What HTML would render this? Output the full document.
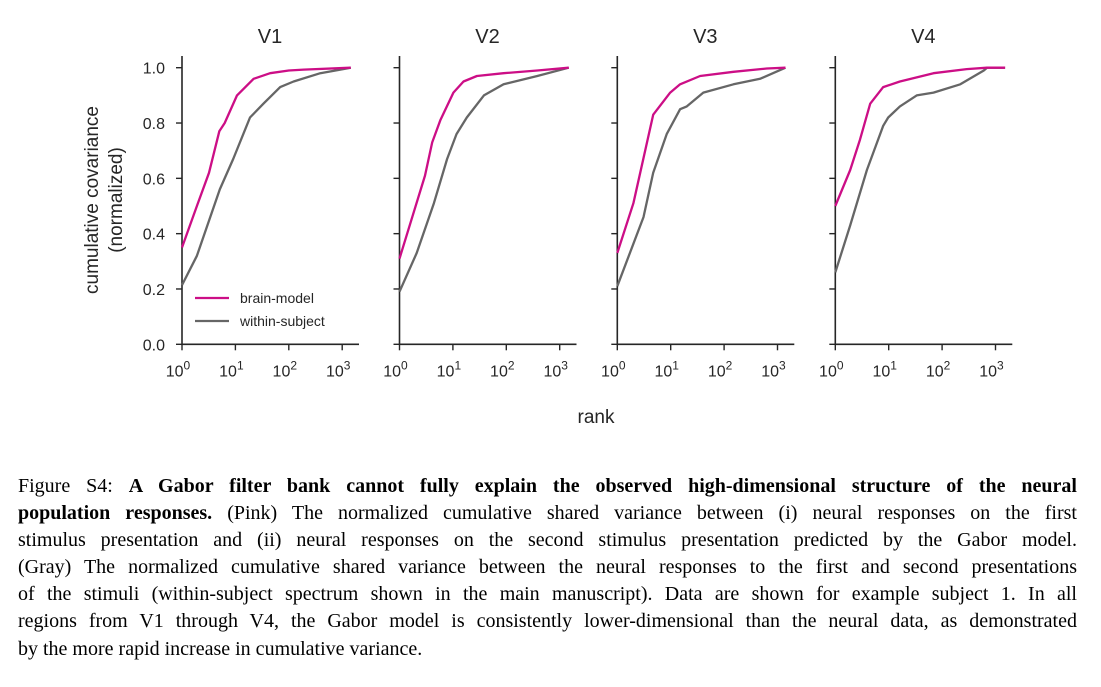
<!DOCTYPE html>
<html><head><meta charset="utf-8">
<style>
body{margin:0;background:#fff;width:1101px;height:687px;overflow:hidden;position:relative}
svg text{font-family:"Liberation Sans",sans-serif;fill:#262626}
#cap{position:absolute;left:18px;top:473px;width:1059px;font-family:"Liberation Serif",serif;font-size:20px;line-height:27.1px;color:#000}
#cap div{text-align:justify;text-align-last:justify;white-space:nowrap}
#cap div.last{text-align-last:left}
</style></head><body>
<svg id="fig" width="1101" height="460" style="position:absolute;left:0;top:0"></svg>
<div id="cap">
<div>Figure S4: <b>A Gabor filter bank cannot fully explain the observed high-dimensional structure of the neural</b></div>
<div><b>population responses.</b> (Pink) The normalized cumulative shared variance between (i) neural responses on the first</div>
<div>stimulus presentation and (ii) neural responses on the second stimulus presentation predicted by the Gabor model.</div>
<div>(Gray) The normalized cumulative shared variance between the neural responses to the first and second presentations</div>
<div>of the stimuli (within-subject spectrum shown in the main manuscript). Data are shown for example subject 1. In all</div>
<div>regions from V1 through V4, the Gabor model is consistently lower-dimensional than the neural data, as demonstrated</div>
<div class="last">by the more rapid increase in cumulative variance.</div>
</div>
<script>
const panels=["V1","V2","V3","V4"];
const yTicks=[0,0.2,0.4,0.6,0.8,1.0];
const yTickLabels=["0.0","0.2","0.4","0.6","0.8","1.0"];
const xTicks=[1,10,100,1000];
const brainRank=[
[1,1.9,3.2,5,6.3,10.7,21.9,44.7,100,190,1450],
[1,1.8,3,4.1,5.8,10.2,15.8,28.2,89,380,1480],
[1,2,4.7,9.8,15,35.5,150,630,1410],
[1,1.9,2.9,4.5,7.9,16.2,69,289,692,1510]];
const brainVal=[
[0.35,0.5,0.62,0.77,0.8,0.9,0.96,0.98,0.99,0.993,1],
[0.31,0.47,0.61,0.73,0.81,0.91,0.95,0.97,0.98,0.99,1],
[0.33,0.51,0.83,0.91,0.94,0.97,0.985,0.997,1],
[0.5,0.63,0.74,0.87,0.93,0.95,0.98,0.995,1,1]];
const withinRank=[
[1,1.9,5.1,9.1,18.8,33.5,69,123,389,1450],
[1,2.1,4.4,7.8,11.7,18.2,38,89,380,1480],
[1,3.1,4.7,8.4,15,20,40.7,150,473,1410],
[1,1.9,3.9,7.9,9.8,16.2,33.5,69,219,603,692,1510]];
const withinVal=[
[0.214,0.32,0.56,0.67,0.82,0.87,0.93,0.95,0.98,1],
[0.19,0.33,0.51,0.67,0.76,0.82,0.9,0.94,0.97,1],
[0.21,0.46,0.62,0.76,0.85,0.86,0.91,0.94,0.96,1],
[0.26,0.43,0.63,0.79,0.82,0.86,0.9,0.91,0.94,0.99,1,1]];
const svg=document.getElementById('fig');
const NS="http://www.w3.org/2000/svg";
function mk(t,a,p){const e=document.createElementNS(NS,t);for(const k in a)e.setAttribute(k,a[k]);(p||svg).appendChild(e);return e;}
const x0s=[182,399.5,617.3,835.3],dec=53.4,yB=344.3,yT=67.7;
const ys=v=>yB-v*(yB-yT);
panels.forEach((name,i)=>{
  const x0=x0s[i];const xs=r=>x0+Math.log10(r)*dec;
  const g=mk('g',{});
  
  
  const t=mk('text',{x:x0+88,y:43,'font-size':20,'text-anchor':'middle'},g);t.textContent=name;
  
  const ax=mk('path',{d:`M${x0} 56V${yB}H${x0+177}`,stroke:'#262626','stroke-width':1.6,fill:'none'},g);
  
  yTicks.forEach((v,j)=>{
    mk('line',{x1:x0-6,x2:x0,y1:ys(v),y2:ys(v),stroke:'#262626','stroke-width':1.4},g);
    if(i==0){const l=mk('text',{x:x0-17,y:ys(v)+6,'font-size':16,'text-anchor':'end'},g);l.textContent=yTickLabels[j];
      }
  });
  xTicks.forEach(r=>{
    const x=xs(r);mk('line',{x1:x,x2:x,y1:yB,y2:yB+6,stroke:'#262626','stroke-width':1.4},g);
    const l=mk('text',{x:x-4,y:yB+32,'font-size':16,'text-anchor':'middle'},g);
    l.innerHTML='10<tspan dy="-7" font-size="12">'+Math.round(Math.log10(r))+'</tspan>';
    
  });
  const pts=(R,V)=>R.map((r,k)=>xs(r).toFixed(1)+','+ys(V[k]).toFixed(1)).join(' ');
  const gl=mk('polyline',{points:pts(withinRank[i],withinVal[i]),fill:'none',stroke:'#666','stroke-width':2.3,'stroke-linejoin':'round'},g);
  
  const bl=mk('polyline',{points:pts(brainRank[i],brainVal[i]),fill:'none',stroke:'#cc0e86','stroke-width':2.3,'stroke-linejoin':'round'},g);
  
});
const lg=mk('g',{});

[['brain-model','#cc0e86',298],['within-subject','#666',321]].forEach(([n,c,y])=>{
  mk('line',{x1:195,x2:229,y1:y,y2:y,stroke:c,'stroke-width':2.3},lg);
  const t=mk('text',{x:240,y:y+5,'font-size':14},lg);t.textContent=n;
  
});
const yl=mk('text',{transform:'translate(98,200) rotate(-90)','font-size':19,'text-anchor':'middle'});
yl.innerHTML='<tspan x="0" dy="0">cumulative covariance</tspan><tspan x="0" dy="24">(normalized)</tspan>';

const xl=mk('text',{x:596,y:423,'font-size':19,'text-anchor':'middle'});xl.textContent='rank';

</script>
</body></html>
